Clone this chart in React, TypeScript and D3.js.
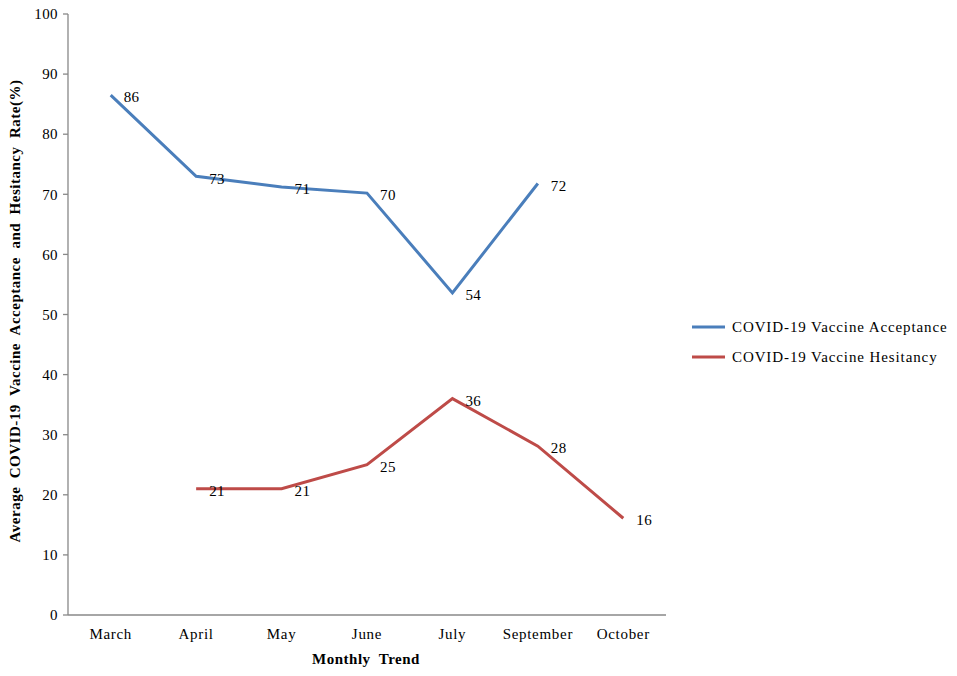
import React from "react";
import * as d3 from "d3";

const months = ["March", "April", "May", "June", "July", "September", "October"];
const acceptance: (number | null)[] = [86.5, 73, 71.2, 70.2, 53.6, 71.8, null];
const acceptanceLabels = ["86", "73", "71", "70", "54", "72", ""];
const hesitancy: (number | null)[] = [null, 21, 21, 25, 36, 28.1, 16.1];
const hesitancyLabels = ["", "21", "21", "25", "36", "28", "16"];
const yTicks = [0, 10, 20, 30, 40, 50, 60, 70, 80, 90, 100];
const seriesNames = ["COVID-19 Vaccine Acceptance", "COVID-19 Vaccine Hesitancy"];
const colors = ["#4a7ebb", "#be4b48"];

const W = 957, H = 676;
const left = 68, right = 666, top = 14, bottom = 615;
const font = "'Liberation Serif', 'Times New Roman', serif";

export default function App() {
  const x = d3.scaleBand<string>().domain(months).range([left, right]);
  const y = d3.scaleLinear().domain([0, 100]).range([bottom, top]);
  const cx = (m: string) => (x(m) as number) + x.bandwidth() / 2;
  const line = d3
    .line<number | null>()
    .defined((d) => d !== null)
    .x((_, i) => cx(months[i]))
    .y((d) => y(d as number));

  const series = [
    { vals: acceptance, labels: acceptanceLabels },
    { vals: hesitancy, labels: hesitancyLabels },
  ];

  return (
    <svg width={W} height={H} style={{ display: "block", position: "absolute", left: 0, top: 0 }} fontFamily={font}>
      <rect width={W} height={H} fill="#fff" />
      <line x1={left} x2={left} y1={top} y2={bottom} stroke="#888" strokeWidth={1.3} />
      <line x1={left} x2={right} y1={bottom} y2={bottom} stroke="#888" strokeWidth={1.3} />
      {yTicks.map((t) => (
        <g key={t}>
          <line x1={left - 5} x2={left} y1={y(t)} y2={y(t)} stroke="#888" strokeWidth={1.3} />
          <text x={left - 10} y={y(t)} dy="0.35em" textAnchor="end" fontSize={15} letterSpacing={0.4} fill="#000">
            {t}
          </text>
        </g>
      ))}
      {months.map((m) => (
        <text key={m} x={cx(m)} y={639} textAnchor="middle" fontSize={15} letterSpacing={0.7} fill="#000">
          {m}
        </text>
      ))}
      <text x={366} y={664} textAnchor="middle" fontSize={15} letterSpacing={0.5} fontWeight="bold" fill="#000" style={{ whiteSpace: "pre" }}>
        {"Monthly  Trend"}
      </text>
      <text
        transform={`translate(20,311) rotate(-90)`}
        textAnchor="middle"
        fontSize={15}
        letterSpacing={0.5}
        fontWeight="bold"
        fill="#000"
        style={{ whiteSpace: "pre" }}
      >
        {"Average  COVID-19  Vaccine  Acceptance  and  Hesitancy  Rate(%)"}
      </text>
      {series.map((s, si) => (
        <g key={si}>
          <path d={line(s.vals) || ""} fill="none" stroke={colors[si]} strokeWidth={3} />
          {s.vals.map((v, i) =>
            v === null ? null : (
              <text key={i} x={cx(months[i]) + 13} y={y(v) + 2} dy="0.35em" fontSize={15} letterSpacing={0.4} fill="#000">
                {s.labels[i]}
              </text>
            )
          )}
        </g>
      ))}
      {seriesNames.map((n, i) => (
        <g key={n} transform={`translate(692,${327 + i * 30})`}>
          <line x1={0} x2={33} y1={0} y2={0} stroke={colors[i]} strokeWidth={3} />
          <text x={40} y={0} dy="0.35em" fontSize={15} letterSpacing={0.9} fill="#000">
            {n}
          </text>
        </g>
      ))}
    </svg>
  );
}
